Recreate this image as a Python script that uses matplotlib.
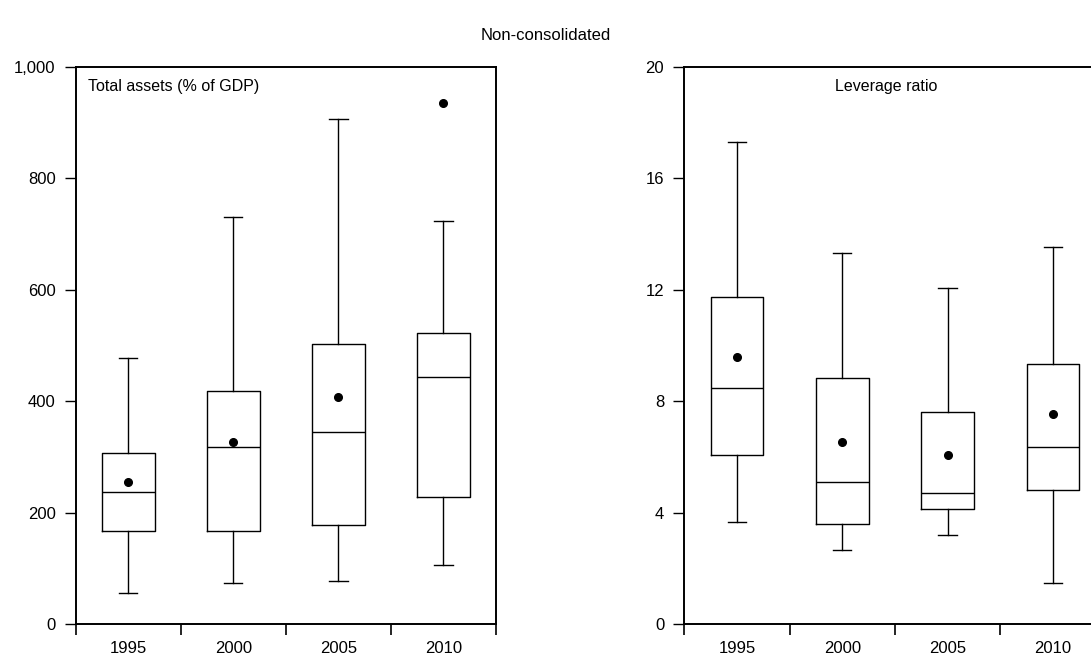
import matplotlib
matplotlib.use("Agg")
import matplotlib.pyplot as plt
from matplotlib.ticker import FuncFormatter, FixedLocator

plt.rcParams['font.family'] = ['Liberation Sans', 'DejaVu Sans']

years = ["1995", "2000", "2005", "2010"]

# Total assets (% of GDP)
ta_low = [55, 74, 77, 106]
ta_q1 = [166, 166, 178, 228]
ta_med = [237, 317, 345, 444]
ta_q3 = [307, 418, 502, 523]
ta_high = [478, 731, 906, 723]
ta_mean = [255, 327, 408, 935]

# Leverage ratio
lv_low = [3.66, 2.66, 3.20, 1.48]
lv_q1 = [6.05, 3.58, 4.12, 4.80]
lv_med = [8.46, 5.11, 4.70, 6.35]
lv_q3 = [11.73, 8.82, 7.60, 9.34]
lv_high = [17.28, 13.31, 12.07, 13.54]
lv_mean = [9.59, 6.52, 6.05, 7.55]

fig = plt.figure(figsize=(10.91, 6.57), dpi=100)

def make_stats(low, q1, med, q3, high, mean):
    return [dict(whislo=a, q1=b, med=c, q3=d, whishi=e, mean=f, fliers=[], label=y)
            for a, b, c, d, e, f, y in zip(low, q1, med, q3, high, mean, years)]

def panel(rect, stats, ylim, yticks, fmt, label, label_x, label_ha):
    ax = fig.add_axes(rect)
    lw = 1.0
    ax.bxp(stats, positions=range(len(years)), widths=0.5, capwidths=0.174,
           showmeans=True, showfliers=False,
           boxprops=dict(color='black', linewidth=lw),
           whiskerprops=dict(color='black', linewidth=lw),
           capprops=dict(color='black', linewidth=lw),
           medianprops=dict(color='black', linewidth=lw),
           meanprops=dict(marker='o', markerfacecolor='black', markeredgecolor='black',
                          markersize=5.5))
    ax.set_xlim(-0.5, len(years) - 0.5)
    ax.set_ylim(*ylim)
    ax.yaxis.set_major_locator(FixedLocator(yticks))
    ax.yaxis.set_major_formatter(FuncFormatter(fmt))
    ax.xaxis.set_major_locator(FixedLocator([i - 0.5 for i in range(len(years) + 1)]))
    ax.xaxis.set_major_formatter(FuncFormatter(lambda v, p: ""))
    ax.xaxis.set_minor_locator(FixedLocator(list(range(len(years)))))
    ax.set_xticklabels(years, minor=True)
    ax.tick_params(axis='x', which='major', direction='out', length=8, width=1.2)
    ax.tick_params(axis='x', which='minor', length=0, pad=12.5, labelsize=12)
    ax.tick_params(axis='y', which='major', direction='out', length=8, width=1.0,
                   pad=6.5, labelsize=12)
    for s in ax.spines.values():
        s.set_linewidth(1.4)
    ax.text(label_x, 0.965, label, transform=ax.transAxes, ha=label_ha, va='center',
            fontsize=11.5)
    return ax

W, H = 1091, 657
rect_l = [75.7 / W, (H - 624) / H, 420.3 / W, (624 - 66.7) / H]
rect_r = [684.3 / W, (H - 624) / H, 421.3 / W, (624 - 66.7) / H]

panel(rect_l, make_stats(ta_low, ta_q1, ta_med, ta_q3, ta_high, ta_mean),
      (0, 1000), [0, 200, 400, 600, 800, 1000], lambda v, p: f"{int(v):,}",
      "Total assets (% of GDP)", 0.03, 'left')
panel(rect_r, make_stats(lv_low, lv_q1, lv_med, lv_q3, lv_high, lv_mean),
      (0, 20), [0, 4, 8, 12, 16, 20], lambda v, p: f"{int(v)}",
      "Leverage ratio", 0.48, 'center')

fig.text(0.5, 1 - 35 / H, "Non-consolidated", ha='center', va='center', fontsize=12)

fig.savefig("out.png", dpi=100)
